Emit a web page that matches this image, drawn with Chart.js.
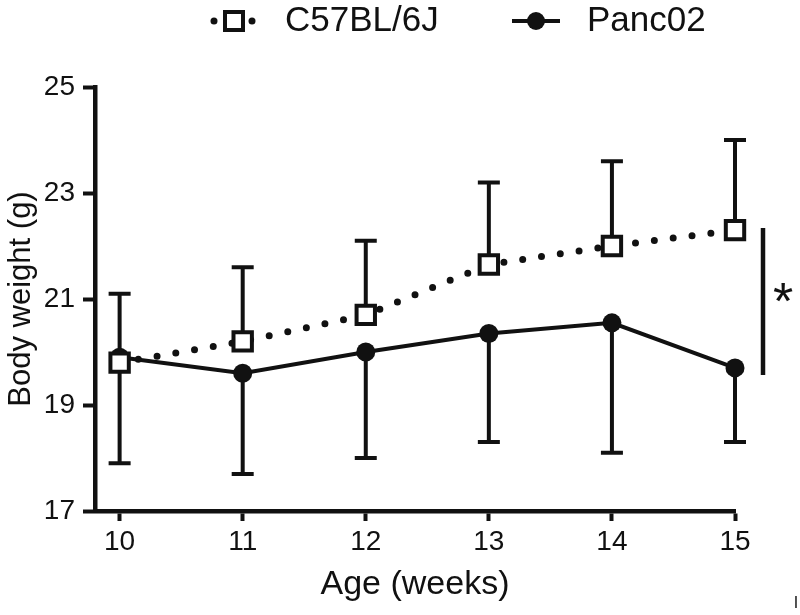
<!DOCTYPE html>
<html>
<head>
<meta charset="utf-8">
<script src="https://cdn.jsdelivr.net/npm/chart.js@4"></script>
<style>
  html,body{margin:0;padding:0;background:#fff;}
  #wrap{width:800px;height:615px;position:relative;}
</style>
</head>
<body>
<div id="wrap"><canvas id="c" width="800" height="615"></canvas></div>
<script>
/* ===== DATA ===== */
const weeks=[10,11,12,13,14,15];
const yTicks=[17,19,21,23,25];
const c57Mean=[19.8,20.2,20.7,21.65,22.0,22.3];
const c57Sd=[1.3,1.4,1.4,1.55,1.6,1.7];      // drawn upward only
const pancMean=[19.9,19.6,20.0,20.35,20.55,19.7];
const pancSd=[2.0,1.9,2.0,2.05,2.45,1.4];    // drawn downward only
const seriesNames=['C57BL/6J','Panc02'];
const sigLabel='*';

const FONT='"Liberation Sans", Arial, sans-serif';
const INK='#111';

/* ===== PLUGINS ===== */
// error bars (one-sided, Prism style)
const errorBars={
  id:'errorBars',
  beforeDatasetsDraw(chart){
    const {ctx,scales:{x,y}}=chart;
    const cap=11;
    ctx.save();
    ctx.strokeStyle=INK;ctx.lineWidth=4;ctx.lineCap='butt';
    const draw=(means,sds,dir)=>{
      means.forEach((m,i)=>{
        const px=x.getPixelForValue(weeks[i]);
        const p0=y.getPixelForValue(m), p1=y.getPixelForValue(m+dir*sds[i]);
        ctx.beginPath();
        ctx.moveTo(px,p0);ctx.lineTo(px,p1);
        ctx.moveTo(px-cap,p1);ctx.lineTo(px+cap,p1);
        ctx.stroke();
      });
    };
    draw(c57Mean,c57Sd,1);
    draw(pancMean,pancSd,-1);
    ctx.restore();
  }
};

// legend with line + marker, significance bar, stray mark
const extras={
  id:'extras',
  afterDraw(chart){
    const {ctx,scales:{x,y}}=chart;
    ctx.save();
    const ly=21;
    // C57 marker
    ctx.fillStyle=INK;
    [214,252].forEach(cx=>{ctx.beginPath();ctx.arc(cx,ly,3.5,0,Math.PI*2);ctx.fill();});
    ctx.fillStyle='#fff';ctx.strokeStyle=INK;ctx.lineWidth=4;
    ctx.fillRect(225,ly-9,18,18);ctx.strokeRect(225,ly-9,18,18);
    // Panc02 marker
    ctx.beginPath();ctx.moveTo(512,ly);ctx.lineTo(560,ly);ctx.stroke();
    ctx.fillStyle=INK;ctx.beginPath();ctx.arc(536,ly,9,0,Math.PI*2);ctx.fill();
    ctx.font='35px '+FONT;ctx.textBaseline='middle';ctx.textAlign='left';
    ctx.fillText(seriesNames[0],285,ly);
    ctx.fillText(seriesNames[1],587,ly);
    // significance bar between the two series at last week
    const last=weeks.length-1;
    const bx=x.getPixelForValue(weeks[last])+28;
    const top=y.getPixelForValue(c57Mean[last])-2, bot=y.getPixelForValue(pancMean[last])+7;
    ctx.lineWidth=4.5;
    ctx.beginPath();ctx.moveTo(bx,top);ctx.lineTo(bx,bot);ctx.stroke();
    // asterisk, glyph centred beside the bar
    ctx.font='52px '+FONT;ctx.textAlign='left';ctx.textBaseline='alphabetic';
    const m=ctx.measureText(sigLabel);
    const gw=m.actualBoundingBoxRight+m.actualBoundingBoxLeft;
    const gh=m.actualBoundingBoxAscent+m.actualBoundingBoxDescent;
    const cx=bx+20, cy=(top+bot)/2-9;
    ctx.fillText(sigLabel,cx-gw/2+m.actualBoundingBoxLeft,cy+gh/2-m.actualBoundingBoxDescent);
    ctx.font='16px '+FONT;ctx.textAlign='center';ctx.textBaseline='middle';
    ctx.fillText('I',796,604);
    ctx.restore();
  }
};

/* ===== CHART ===== */
new Chart(document.getElementById('c').getContext('2d'),{
  type:'line',
  data:{
    datasets:[
      {label:seriesNames[0],data:weeks.map((w,i)=>({x:w,y:c57Mean[i]})),
       borderColor:INK,borderWidth:7,borderDash:[0,19],borderCapStyle:'round',
       pointStyle:'rect',pointRadius:13,pointBorderWidth:4,
       pointBackgroundColor:'#fff',pointBorderColor:INK,tension:0,clip:false},
      {label:seriesNames[1],data:weeks.map((w,i)=>({x:w,y:pancMean[i]})),
       borderColor:INK,borderWidth:4,
       pointStyle:'circle',pointRadius:9.5,pointBorderWidth:0,
       pointBackgroundColor:INK,tension:0,clip:false}
    ]
  },
  options:{
    responsive:false,animation:false,
    layout:{padding:{top:87,right:65,left:0,bottom:0}},
    plugins:{legend:{display:false},tooltip:{enabled:false}},
    scales:{
      x:{type:'linear',min:9.8,max:15,
        afterBuildTicks:s=>{s.ticks=weeks.map(v=>({value:v}));},
        afterFit:s=>{s.height=104;},
        border:{color:INK,width:4.5},
        grid:{drawOnChartArea:false,drawTicks:true,tickLength:10,tickColor:INK,tickWidth:4},
        ticks:{color:INK,font:{size:28,family:FONT},padding:4,maxRotation:0},
        title:{display:true,text:'Age (weeks)',color:INK,font:{size:34,family:FONT},padding:{top:0,bottom:10}}
      },
      y:{min:17,max:25,
        afterBuildTicks:s=>{s.ticks=yTicks.map(v=>({value:v}));},
        afterFit:s=>{s.width=95;},
        border:{color:INK,width:4.5},
        grid:{drawOnChartArea:false,drawTicks:true,tickLength:12,tickColor:INK,tickWidth:4},
        ticks:{color:INK,font:{size:28,family:FONT},padding:8},
        title:{display:true,text:'Body weight (g)',color:INK,font:{size:31,family:FONT},padding:{top:3,bottom:0}}
      }
    }
  },
  plugins:[errorBars,extras]
});
</script>
</body>
</html>
